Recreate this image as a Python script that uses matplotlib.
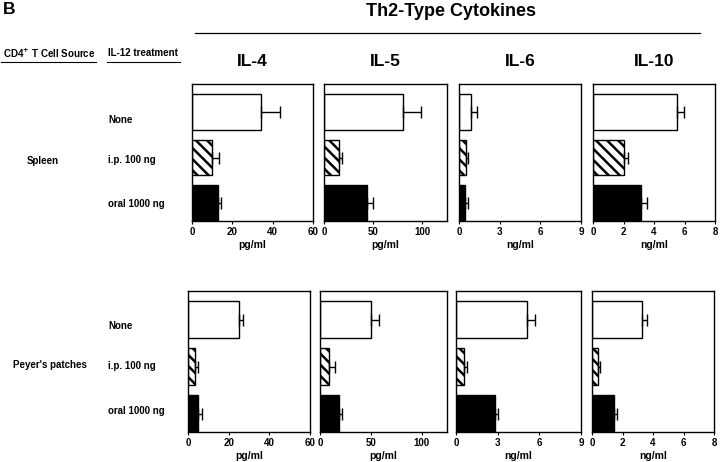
import matplotlib
matplotlib.use("Agg")
import matplotlib.pyplot as plt
import numpy as np

plt.rcParams['font.family'] = ['Liberation Sans', 'DejaVu Sans']
plt.rcParams['hatch.linewidth'] = 1.8

cytokines = ["IL-4", "IL-5", "IL-6", "IL-10"]
units = ["pg/ml", "pg/ml", "ng/ml", "ng/ml"]
xlims = [60, 125, 9, 8]
xticks = [[0, 20, 40, 60], [0, 50, 100], [0, 3, 6, 9], [0, 2, 4, 6, 8]]
treatments = ["None", "i.p. 100 ng", "oral 1000 ng"]
sources = ["Spleen", "Peyer's patches"]

# values per cytokine: [None, i.p., oral]
spleen_means = [[34, 10, 12.7], [80, 15, 44], [0.92, 0.5, 0.42], [5.5, 2.05, 3.15]]
spleen_errs = [[9.6, 3.5, 1.6], [19, 3.7, 6], [0.38, 0.17, 0.25], [0.47, 0.26, 0.42]]
pp_means = [[25, 3.6, 4.8], [50, 9, 19], [5.1, 0.6, 2.8], [3.25, 0.37, 1.45]]
pp_errs = [[2.1, 1.5, 2.1], [8, 5.5, 2.4], [0.6, 0.2, 0.2], [0.35, 0.17, 0.18]]

W, H = 720, 462
fig = plt.figure(figsize=(7.2, 4.62), dpi=100)

def px_axes(x0, x1, y0, y1):
    return fig.add_axes([x0 / W, 1 - y1 / H, (x1 - x0) / W, (y1 - y0) / H])

top_boxes = [(192, 313), (324, 447), (459, 581), (593, 715)]
bot_boxes = [(188, 310), (320, 447), (456, 581), (592, 714)]
rows = [(84, 221, spleen_means, spleen_errs, top_boxes),
        (291, 432, pp_means, pp_errs, bot_boxes)]

styles = [dict(color='white', hatch=None),
          dict(color='white', hatch='\\\\\\'),
          dict(color='black', hatch=None)]

ypos = [2, 1, 0]
h = 0.78
for (y0, y1, means, errs, boxes) in rows:
    for k in range(4):
        ax = px_axes(boxes[k][0], boxes[k][1], y0, y1)
        for j in range(3):
            st = styles[j]
            ax.barh(ypos[j], means[k][j], height=h, color=st['color'],
                    edgecolor='black', linewidth=1.0, hatch=st['hatch'], zorder=2)
            ax.errorbar(means[k][j], ypos[j], xerr=[[0], [errs[k][j]]],
                        fmt='none', ecolor='black', elinewidth=1.0,
                        capsize=4, capthick=1.0, zorder=3)
        ax.set_xlim(0, xlims[k])
        ax.set_ylim(-h / 2, 2 + h / 2 + 0.22)
        ax.set_yticks([])
        ax.set_xticks(xticks[k])
        ax.tick_params(axis='x', direction='out', length=2.5, width=0.8,
                       labelsize=7, pad=2)
        for lab in ax.get_xticklabels():
            lab.set_fontweight('bold')
        ax.set_xlabel(units[k], fontsize=7.5, fontweight='bold', labelpad=2)
        for sp in ax.spines.values():
            sp.set_linewidth(1.0)
        if y0 == 84:
            cx = (boxes[k][0] + boxes[k][1]) / 2 / W
            fig.text(cx, 1 - 62 / H, cytokines[k], ha='center', va='center',
                     fontsize=12.5, fontweight='bold')

# figure-level texts
fig.text(3 / W, 1 - 9 / H, "B", ha='left', va='center', fontsize=12.5, fontweight='bold')
fig.text(451 / W, 1 - 12 / H, "Th2-Type Cytokines", ha='center', va='center',
         fontsize=13, fontweight='bold')
fig.add_artist(plt.Line2D([195 / W, 700 / W], [1 - 33 / H, 1 - 33 / H],
                          color='black', linewidth=0.9))
fig.text(3 / W, 1 - 53 / H, r"CD4$^{\mathbf{+}}$ T Cell Source", ha='left', va='center',
         fontsize=7, fontweight='bold')
fig.add_artist(plt.Line2D([1 / W, 96 / W], [1 - 62 / H, 1 - 62 / H],
                          color='black', linewidth=0.8))
fig.text(108 / W, 1 - 53 / H, "IL-12 treatment", ha='left', va='center',
         fontsize=7, fontweight='bold')
fig.add_artist(plt.Line2D([107 / W, 180 / W], [1 - 62 / H, 1 - 62 / H],
                          color='black', linewidth=0.8))

row_label_y = [[120, 160, 204], [326, 366, 411]]
source_pos = [(27, 161), (13, 365)]
for r in range(2):
    fig.text(source_pos[r][0] / W, 1 - source_pos[r][1] / H, sources[r],
             ha='left', va='center', fontsize=7, fontweight='bold')
    for j in range(3):
        fig.text(108 / W, 1 - row_label_y[r][j] / H, treatments[j],
                 ha='left', va='center', fontsize=7, fontweight='bold')

fig.savefig("out.png", dpi=100)
